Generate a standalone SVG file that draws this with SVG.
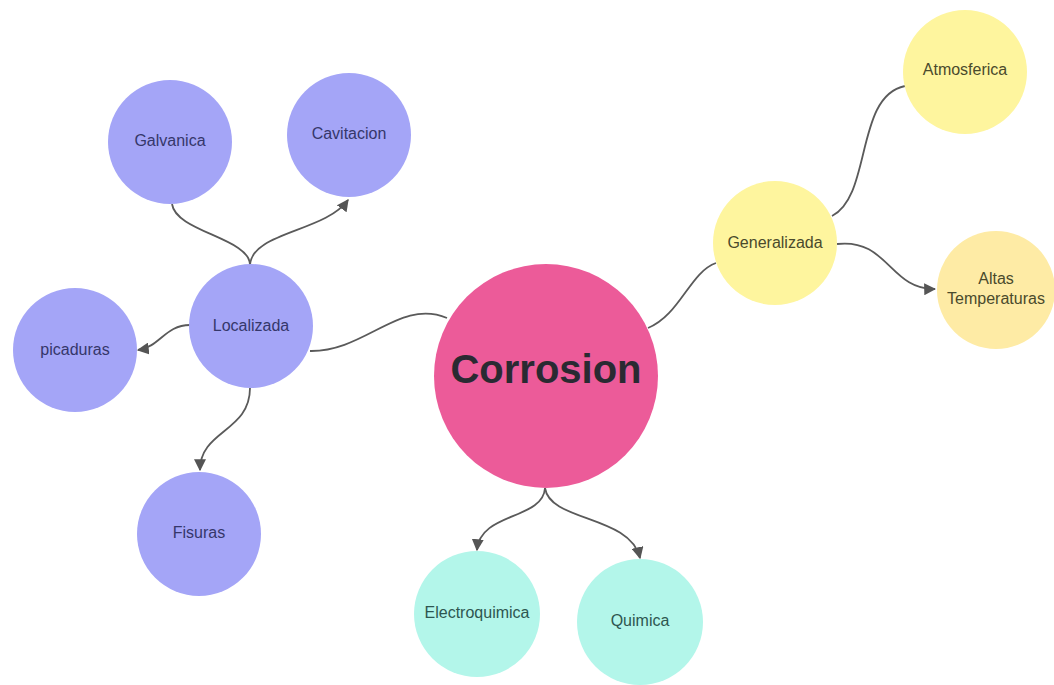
<svg xmlns="http://www.w3.org/2000/svg" width="1054" height="685" viewBox="0 0 1054 685">
<style>
.purple{fill:#A4A5F7}
.yellow{fill:#FEF59E}
.cyan{fill:#B3F6EA}
.lbl{font-family:"Liberation Sans",Arial,sans-serif;font-size:16px;text-anchor:middle}
.tp{fill:#35376A}
.ty{fill:#4A4A2C}
.tc{fill:#2E5650}
.edge{fill:none;stroke:#5A5A5A;stroke-width:1.8}
</style>
<defs>
<marker id="arr" viewBox="0 0 10 10" refX="9" refY="5" markerWidth="12" markerHeight="12" markerUnits="userSpaceOnUse" orient="auto">
<path d="M0,0 L10,5 L0,10 z" fill="#555"/>
</marker>
</defs>
<rect width="1054" height="685" fill="#FFFFFF"/>
<g id="connectors">
<path class="edge" d="M447 318 C400 298, 365 352, 310 351"/>
<path class="edge" d="M250 265 C250 238, 176 232, 172 204"/>
<path class="edge" d="M250 265 C252 232, 325 232, 348 200" marker-end="url(#arr)"/>
<path class="edge" d="M190 325 C165 325, 160 347, 138 350" marker-end="url(#arr)"/>
<path class="edge" d="M250 388 C250 432, 200 430, 200 470" marker-end="url(#arr)"/>
<path class="edge" d="M648 328 C680 315, 690 272, 716 263"/>
<path class="edge" d="M832 216 C872 196, 855 96, 905 86"/>
<path class="edge" d="M837 244 C888 238, 890 290, 935 289" marker-end="url(#arr)"/>
<path class="edge" d="M545 488 C543 520, 480 512, 477 550" marker-end="url(#arr)"/>
<path class="edge" d="M545 488 C550 522, 630 515, 640 558" marker-end="url(#arr)"/>
</g>
<g id="corrosion">
<circle cx="546" cy="376" r="112" fill="#EC5B99"/>
<text x="546" y="383" font-family="'Liberation Sans',Arial,sans-serif" font-size="40" font-weight="bold" text-anchor="middle" fill="#2A2A32">Corrosion</text>
</g>
<g id="localizada">
<circle class="purple" cx="251" cy="326" r="62"/>
<text class="lbl tp" x="251" y="331">Localizada</text>
</g>
<g id="galvanica">
<circle class="purple" cx="170" cy="142" r="62"/>
<text class="lbl tp" x="170" y="146">Galvanica</text>
</g>
<g id="cavitacion">
<circle class="purple" cx="349" cy="135" r="62"/>
<text class="lbl tp" x="349" y="139">Cavitacion</text>
</g>
<g id="picaduras">
<circle class="purple" cx="75" cy="350" r="62"/>
<text class="lbl tp" x="75" y="355">picaduras</text>
</g>
<g id="fisuras">
<circle class="purple" cx="199" cy="534" r="62"/>
<text class="lbl tp" x="199" y="538">Fisuras</text>
</g>
<g id="generalizada">
<circle class="yellow" cx="775" cy="243" r="62"/>
<text class="lbl ty" x="775" y="248">Generalizada</text>
</g>
<g id="atmosferica">
<circle class="yellow" cx="965" cy="72" r="62"/>
<text class="lbl ty" x="965" y="75">Atmosferica</text>
</g>
<g id="altas">
<circle cx="996" cy="290" r="59" fill="#FEEBA5"/>
<text class="lbl ty" x="996" y="284">Altas</text>
<text class="lbl ty" x="996" y="304">Temperaturas</text>
</g>
<g id="electroquimica">
<circle class="cyan" cx="477" cy="614" r="63"/>
<text class="lbl tc" x="477" y="618">Electroquimica</text>
</g>
<g id="quimica">
<circle class="cyan" cx="640" cy="622" r="63"/>
<text class="lbl tc" x="640" y="626">Quimica</text>
</g>
</svg>
